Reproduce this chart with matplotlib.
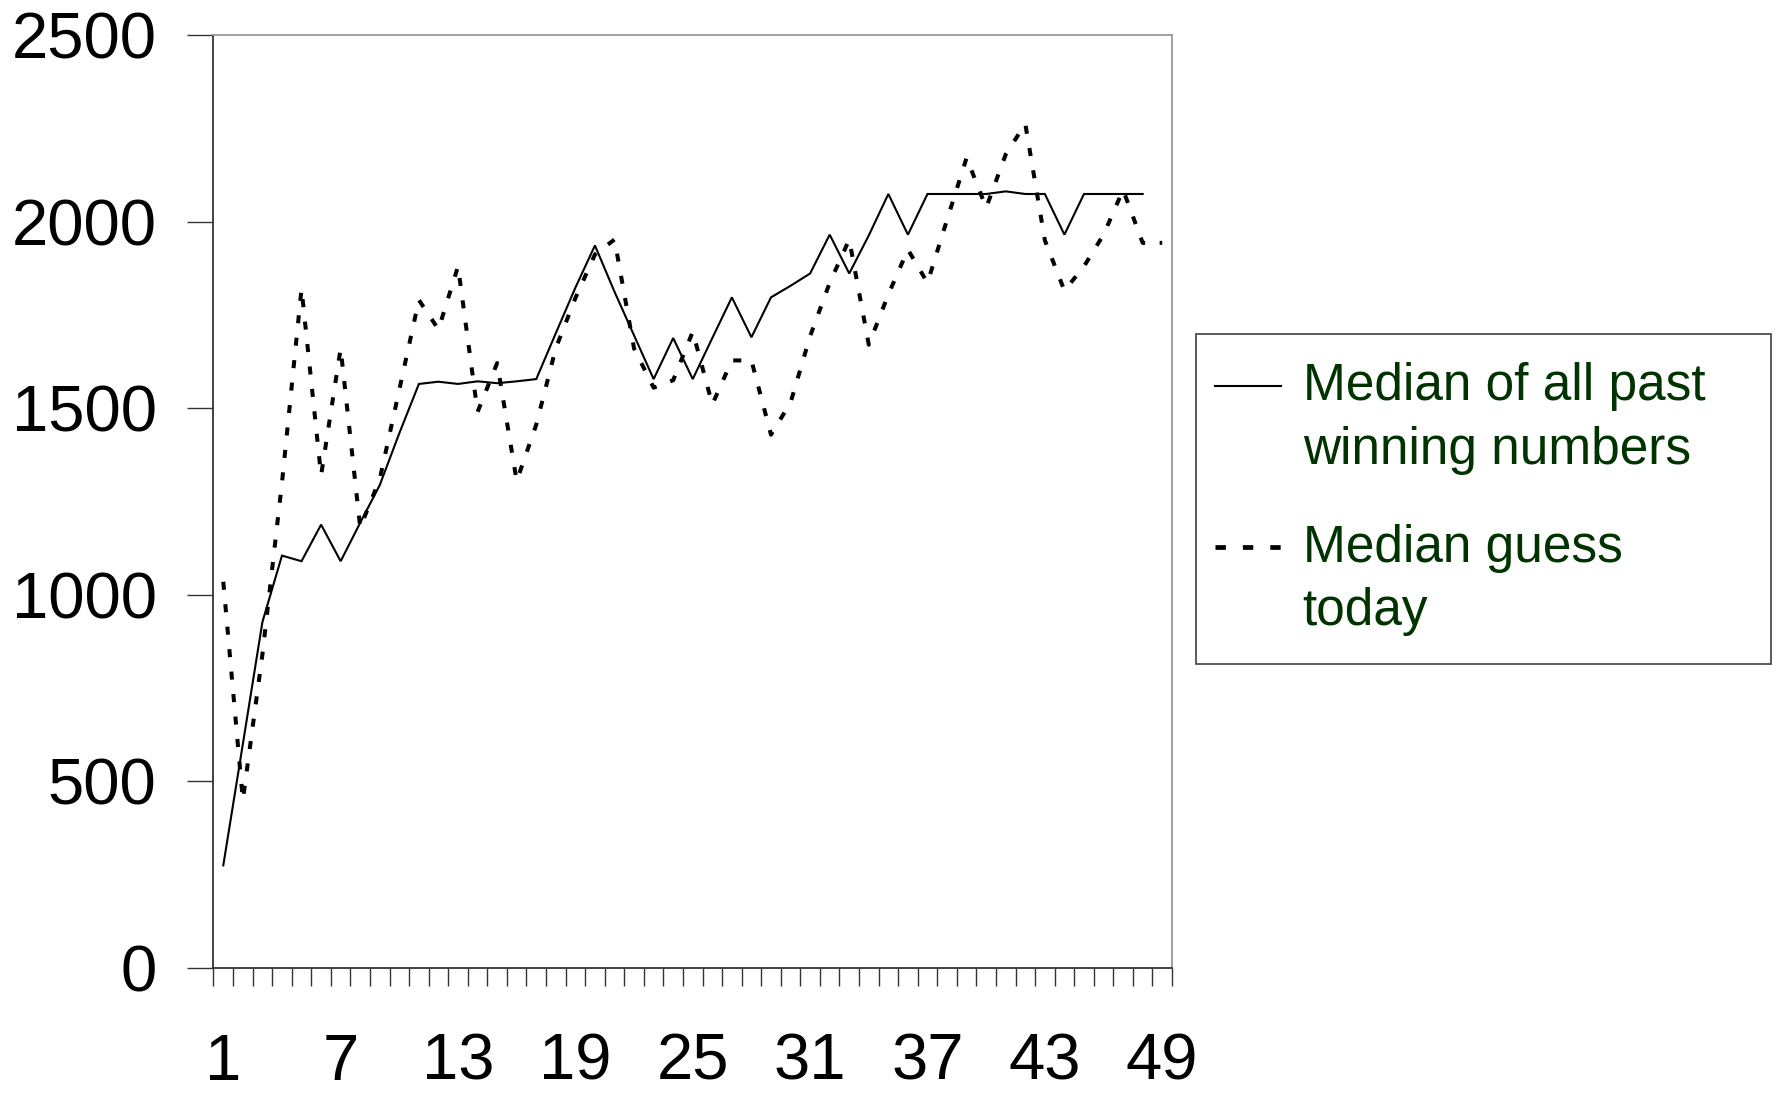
import matplotlib
matplotlib.use("Agg")
import matplotlib.pyplot as plt
from matplotlib.lines import Line2D
from matplotlib.legend_handler import HandlerLine2D
from matplotlib.offsetbox import DrawingArea
import numpy as np

periods = list(range(1, 50))
median_past = [275, 600, 927, 1105, 1090, 1188, 1090, 1193, 1294, 1433,
               1565, 1571, 1565, 1572, 1567, 1572, 1578, 1701, 1823, 1936,
               1812, 1695, 1578, 1688, 1578, 1688, 1797, 1690, 1797, 1828,
               1861, 1965, 1861, 1963, 2074, 1965, 2074, 2074, 2074, 2074,
               2081, 2074, 2074, 1965, 2074, 2074, 2074, 2074]
median_guess = [1035, 450, 840, 1300, 1820, 1320, 1660, 1180, 1310, 1550,
                1790, 1711, 1880, 1490, 1621, 1305, 1456, 1661, 1795, 1912,
                1952, 1660, 1555, 1575, 1705, 1510, 1628, 1628, 1429, 1515,
                1693, 1836, 1952, 1670, 1805, 1925, 1836, 2005, 2171, 2037,
                2180, 2262, 1950, 1815, 1880, 1965, 2085, 1943, 1943]
xtick_labels = ["1", "7", "13", "19", "25", "31", "37", "43", "49"]
ytick_values = [0, 500, 1000, 1500, 2000, 2500]
labels = ["Median of all past\nwinning numbers", "Median guess\ntoday"]


class FirstLineHandler(HandlerLine2D):
    """Place the legend sample level with the first line of a two-line label."""

    def __init__(self, dy, **kw):
        super().__init__(**kw)
        self.dy = dy

    def create_artists(self, legend, orig_handle, xdescent, ydescent,
                       width, height, fontsize, trans):
        arts = super().create_artists(legend, orig_handle, xdescent, ydescent,
                                      width, height, fontsize, trans)
        for a in arts:
            if isinstance(a, Line2D):
                a.set_ydata(np.asarray(a.get_ydata(), dtype=float) + self.dy)
        return arts


W, H = 1781, 1094
fig = plt.figure(figsize=(W / 100, H / 100), dpi=100)
left, right, top, bottom = 213.5, 1172, 35, 968
ax = fig.add_axes([left / W, 1 - bottom / H, (right - left) / W, (bottom - top) / H])

ax.plot(periods[:len(median_past)], median_past, color="black", lw=1.5,
        solid_joinstyle="miter")
ax.plot(periods, median_guess, color="black", lw=2.9, dashes=(2.0, 3.6),
        dash_capstyle="butt")

ax.set_xlim(0.5, 49.5)
ax.set_ylim(0, 2500)

ax.set_yticks(ytick_values)
ax.set_yticklabels([str(v) for v in ytick_values], fontsize=47,
                   family=["Liberation Sans", "DejaVu Sans"])
ax.tick_params(axis="y", direction="out", length=19, width=1.0, pad=22,
               color="#333333")

xt = [int(s) for s in xtick_labels]
ax.set_xticks(xt)
ax.set_xticklabels(xtick_labels, fontsize=47,
                   family=["Liberation Sans", "DejaVu Sans"])
ax.set_xticks(np.arange(0.5, 50.0, 1.0), minor=True)
ax.tick_params(axis="x", which="major", length=0, pad=46.5)
ax.tick_params(axis="x", which="minor", direction="out", length=13, width=1.0,
               color="#333333")

for side in ["left", "bottom"]:
    ax.spines[side].set_color("#333333")
    ax.spines[side].set_linewidth(1.3)
for side in ["top", "right"]:
    ax.spines[side].set_color("#999999")
    ax.spines[side].set_linewidth(1.3)

h_solid = Line2D([], [], color="black", lw=1.5)
h_dash = Line2D([], [], color="black", lw=3.4, dashes=(2.2, 3.6),
                dash_capstyle="butt")
lx0, ly0, lx1, ly1 = 1196, 334, 1771, 664
fs = 37
leg = fig.legend([h_solid, h_dash], labels, loc="upper left",
                 bbox_to_anchor=(lx0 / W, 1 - ly1 / H, (lx1 - lx0) / W, (ly1 - ly0) / H),
                 mode="expand", frameon=True, fancybox=False,
                 handlelength=1.28, handletextpad=0.42, borderpad=0.375,
                 labelspacing=0.95, borderaxespad=0,
                 prop={"family": ["Liberation Sans", "DejaVu Sans"], "size": fs},
                 handler_map={h_solid: FirstLineHandler(24.5),
                              h_dash: FirstLineHandler(24.5)})
leg.get_frame().set_edgecolor("#222222")
leg.get_frame().set_linewidth(1.3)
for t in leg.get_texts():
    t.set_color("#003300")
    t.set_linespacing(1.38)

# extra vertical padding inside the legend box (top and bottom)
box = leg._legend_box
box.sep = 0
box._children = [DrawingArea(0, 6.5), box._children[1], DrawingArea(0, 6.5)]

fig.savefig("out.png", dpi=100)
